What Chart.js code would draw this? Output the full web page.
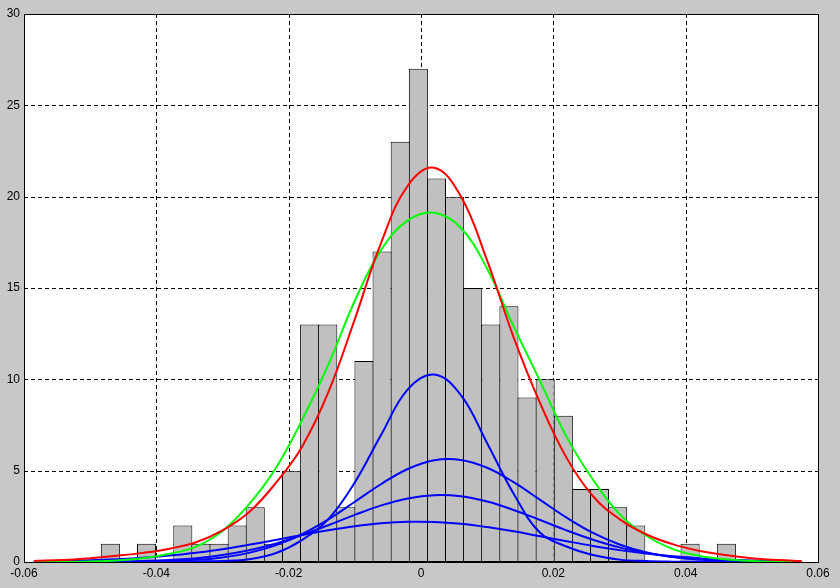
<!DOCTYPE html>
<html><head><meta charset="utf-8">
<script src="https://cdn.jsdelivr.net/npm/chart.js@4.4.1/dist/chart.umd.min.js"></script>
<style>html,body{margin:0;padding:0;background:#c8c8c8;}canvas{display:block;}</style>
</head><body>
<canvas id="c" width="840" height="588"></canvas>
<script>
// Histogram bins (centers) and counts
const binCenters = [-0.04695,-0.04421,-0.04148,-0.03874,-0.03600,-0.03326,-0.03052,-0.02778,-0.02505,-0.02231,
  -0.01957,-0.01683,-0.01409,-0.01135,-0.00862,-0.00588,-0.00314,-0.00040,0.00234,0.00508,
  0.00781,0.01055,0.01329,0.01603,0.01877,0.02151,0.02424,0.02698,0.02972,0.03246,
  0.03520,0.03793,0.04067,0.04341,0.04615];
const binCounts = [1,0,1,0,2,1,1,2,3,1,5,13,13,3,11,17,23,27,21,20,15,13,14,9,10,8,4,4,3,2,0,0,1,0,1];

// Curve sample positions
const curveX = [-0.0585,-0.054,-0.05,-0.046,-0.042,-0.038,-0.034,-0.03,-0.026,-0.022,-0.018,-0.014,-0.01,-0.006,-0.002,
  0.002,0.006,0.01,0.014,0.018,0.022,0.026,0.03,0.034,0.038,0.042,0.046,0.05,0.054,0.0575];
// Red: mixture total
const mixtureTotal = [0.06,0.11,0.21,0.34,0.5,0.73,1.08,1.73,2.72,4.3,6.3,9.3,13.3,17.5,20.6,
  21.58,20.03,16.5,12.3,8.7,5.7,3.6,2.35,1.52,0.98,0.62,0.38,0.21,0.11,0.05];
// Green: single normal fit
const singleFit = [0.0,0.01,0.03,0.08,0.2,0.45,0.84,1.7,3.15,5.1,7.75,10.8,14.3,17.1,18.7,
  19.12,18.3,16.05,12.9,9.9,6.85,4.5,2.62,1.45,0.72,0.34,0.15,0.06,0.02,0.01];
// Blue: mixture components
const comp1 = [0,0,0,0.01,0.01,0.02,0.03,0.06,0.15,0.48,1.2,2.35,4.36,6.98,9.45,
  10.26,9.15,6.5,3.74,1.6,0.85,0.38,0.13,0.05,0.02,0.01,0,0,0,0];
const comp2 = [0,0,0,0.01,0.02,0.05,0.12,0.25,0.5,0.91,1.52,2.33,3.3,4.27,5.09,
  5.57,5.59,5.16,4.37,3.4,2.43,1.59,0.96,0.53,0.27,0.13,0.05,0.02,0.01,0];
const comp3 = [0,0,0.01,0.02,0.05,0.11,0.21,0.38,0.64,1.0,1.47,2.01,2.58,3.1,3.48,
  3.66,3.6,3.31,2.85,2.3,1.73,1.22,0.8,0.5,0.29,0.15,0.08,0.04,0.02,0.01];
const comp4 = [0.03,0.05,0.09,0.15,0.23,0.35,0.51,0.7,0.94,1.2,1.48,1.74,1.96,2.12,2.2,
  2.19,2.09,1.91,1.68,1.41,1.14,0.88,0.65,0.46,0.31,0.21,0.13,0.08,0.04,0.03];

const xTickValues = [-0.06,-0.04,-0.02,0,0.02,0.04,0.06];
const xTickLabels = ['-0.06','-0.04','-0.02','0','0.02','0.04','0.06'];
const yTickValues = [0,5,10,15,20,25,30];
const yTickLabels = ['0','5','10','15','20','25','30'];

function pts(ys){ return curveX.map((x,i)=>({x:x, y:ys[i]})); }

const framePlugin = {
  id:'frame',
  beforeDraw(chart){
    const {ctx, chartArea:a} = chart;
    ctx.save();
    ctx.fillStyle = '#c8c8c8';
    ctx.fillRect(0,0,chart.width,chart.height);
    ctx.fillStyle = '#ffffff';
    ctx.fillRect(a.left,a.top,a.right-a.left,a.bottom-a.top);
    ctx.restore();
  },
  beforeDatasetsDraw(chart){
    const {ctx, chartArea:a, scales} = chart;
    ctx.save();
    ctx.strokeStyle = '#000';
    ctx.lineWidth = 1;
    ctx.setLineDash([4,3]);
    xTickValues.forEach(v=>{
      const px = Math.round(scales.x.getPixelForValue(v)) + 0.5;
      if (px <= a.left + 1 || px >= a.right - 1) return;
      ctx.beginPath(); ctx.moveTo(px, a.top); ctx.lineTo(px, a.bottom); ctx.stroke();
    });
    yTickValues.forEach(v=>{
      const py = Math.round(scales.y.getPixelForValue(v)) + 0.5;
      if (py <= a.top + 1 || py >= a.bottom - 1) return;
      ctx.beginPath(); ctx.moveTo(a.left, py); ctx.lineTo(a.right, py); ctx.stroke();
    });
    ctx.restore();
  },
  afterDatasetsDraw(chart){
    const {ctx, chartArea:a} = chart;
    ctx.save();
    ctx.strokeStyle = '#000';
    ctx.lineWidth = 1;
    ctx.setLineDash([]);
    ctx.strokeRect(a.left + 0.5, a.top + 0.5, a.right - a.left, a.bottom - a.top);
    ctx.restore();
  }
};

const lineBase = {type:'line', pointRadius:0, borderWidth:2, fill:false, tension:0.4};

new Chart(document.getElementById('c'), {
  type:'bar',
  data:{
    datasets:[
      Object.assign({}, lineBase, {label:'mixture', data:pts(mixtureTotal), borderColor:'#ff0000', order:0}),
      Object.assign({}, lineBase, {label:'normal', data:pts(singleFit), borderColor:'#00ff00', order:1}),
      Object.assign({}, lineBase, {label:'c1', data:pts(comp1), borderColor:'#0000ff', order:2}),
      Object.assign({}, lineBase, {label:'c2', data:pts(comp2), borderColor:'#0000ff', order:3}),
      Object.assign({}, lineBase, {label:'c3', data:pts(comp3), borderColor:'#0000ff', order:4}),
      Object.assign({}, lineBase, {label:'c4', data:pts(comp4), borderColor:'#0000ff', order:5}),
      {type:'bar', label:'hist', data:binCenters.map((x,i)=>({x:x, y:binCounts[i]})),
       backgroundColor:'#c0c0c0', borderColor:'#000000', borderWidth:1, borderSkipped:false,
       barPercentage:1.055, categoryPercentage:1.0, grouped:false, order:6}
    ]
  },
  options:{
    responsive:false, animation:false, devicePixelRatio:1,
    layout:{padding:{top:14, right:22, left:0, bottom:0}},
    plugins:{legend:{display:false}, tooltip:{enabled:false}},
    events:[],
    scales:{
      x:{type:'linear', min:-0.06, max:0.06, offset:false,
         grid:{display:false, drawTicks:false}, border:{display:false},
         afterBuildTicks:(s)=>{ s.ticks = xTickValues.map(v=>({value:v})); },
         afterFit:(s)=>{ s.height = 26; },
         ticks:{color:'#000', padding:4, maxRotation:0, autoSkip:false,
           font:{family:'Liberation Sans', size:12},
           callback:(v,i)=>xTickLabels[i]}},
      y:{type:'linear', min:0, max:30,
         grid:{display:false, drawTicks:false}, border:{display:false},
         afterBuildTicks:(s)=>{ s.ticks = yTickValues.map(v=>({value:v})); },
         afterFit:(s)=>{ s.width = 24; },
         ticks:{color:'#000', padding:4, autoSkip:false,
           font:{family:'Liberation Sans', size:12},
           callback:(v,i)=>yTickLabels[i]}}
    }
  },
  plugins:[framePlugin]
});
</script>
</body></html>
